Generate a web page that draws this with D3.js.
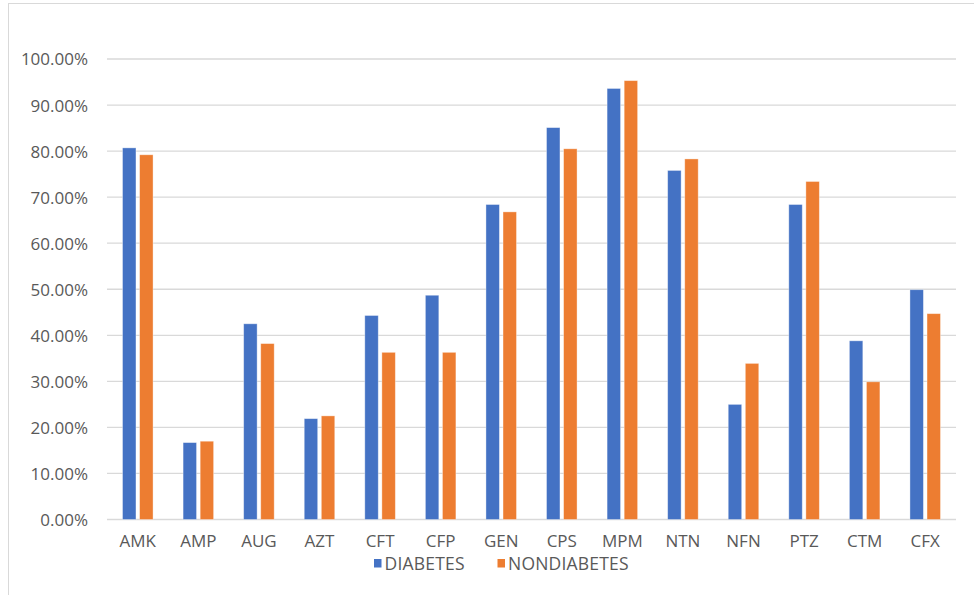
<!DOCTYPE html>
<html>
<head>
<meta charset="utf-8">
<script src="https://cdn.jsdelivr.net/npm/d3@7"></script>
<style>
  html, body { margin: 0; padding: 0; background: #fff; }
  svg { display: block; }
  text { font-family: "Open Sans", "Noto Sans", sans-serif; fill: #595959; }
</style>
</head>
<body>
<svg id="chart" width="974" height="595"></svg>
<script>
const categories = ["AMK","AMP","AUG","AZT","CFT","CFP","GEN","CPS","MPM","NTN","NFN","PTZ","CTM","CFX"];
const diabetes    = [0.807,0.167,0.425,0.219,0.443,0.487,0.684,0.851,0.936,0.758,0.250,0.684,0.388,0.499];
const nondiabetes = [0.792,0.170,0.382,0.225,0.363,0.363,0.668,0.805,0.953,0.783,0.339,0.734,0.299,0.447];
const seriesNames = ["DIABETES","NONDIABETES"];
const seriesColors = ["#4472C4","#ED7D31"];
const yTicks = [0,0.1,0.2,0.3,0.4,0.5,0.6,0.7,0.8,0.9,1.0];

const svg = d3.select("#chart");
const W = 974, H = 595;

// chart outer border (only left/top visible in frame)
svg.append("rect")
  .attr("x", 8.5).attr("y", 3.5)
  .attr("width", W + 20).attr("height", H + 20)
  .attr("fill", "none").attr("stroke", "#d9d9d9").attr("stroke-width", 1);

const x = d3.scaleBand().domain(categories).range([107.5, 955.5]).padding(0);
const y = d3.scaleLinear().domain([0, 1]).range([519.5, 59]);

// gridlines
svg.append("g").selectAll("line").data(yTicks).join("line")
  .attr("x1", 107).attr("x2", 956)
  .attr("y1", d => y(d)).attr("y2", d => y(d))
  .attr("stroke", "#d9d9d9").attr("stroke-width", 1.3);

// y axis labels
const yAxis = d3.axisLeft(y).tickValues(yTicks).tickSize(0).tickPadding(0)
  .tickFormat(d => (d * 100).toFixed(2) + "%");
const yg = svg.append("g").attr("transform", "translate(88,0)").call(yAxis);
yg.select(".domain").remove();
yg.selectAll("text").attr("font-size", 17).attr("fill", "#595959")
  .attr("font-family", '"Open Sans", sans-serif').attr("dy", "0.35em");

// bars
const bw = x.bandwidth() * 0.222;
const gap = x.bandwidth() * 0.06;
const data = [diabetes, nondiabetes];
data.forEach((vals, si) => {
  svg.append("g").selectAll("rect").data(categories).join("rect")
    .attr("x", (c) => x(c) + x.bandwidth() / 2 + (si === 0 ? -gap / 2 - bw : gap / 2))
    .attr("width", bw)
    .attr("y", (c, i) => y(vals[i]))
    .attr("height", (c, i) => y(0) - y(vals[i]))
    .attr("fill", seriesColors[si])
    .attr("stroke", "#ffffff").attr("stroke-opacity", 0.45).attr("stroke-width", 0.8);
});

// x axis labels
const xAxis = d3.axisBottom(x).tickSize(0).tickPadding(0);
const xg = svg.append("g").attr("transform", "translate(0,535)").call(xAxis);
xg.select(".domain").remove();
xg.selectAll("text").attr("font-size", 17).attr("fill", "#595959")
  .attr("font-family", '"Open Sans", sans-serif').attr("dy", "0.71em");

// legend
const legendX = [374, 497.5];
const leg = svg.append("g");
seriesNames.forEach((n, i) => {
  leg.append("rect").attr("x", legendX[i]).attr("y", 559).attr("width", 7.5).attr("height", 8.5)
    .attr("fill", seriesColors[i]);
  leg.append("text").attr("x", legendX[i] + 10.5).attr("y", 569.5)
    .attr("font-size", 17.5).attr("letter-spacing", 0.2).text(n);
});
</script>
</body>
</html>
